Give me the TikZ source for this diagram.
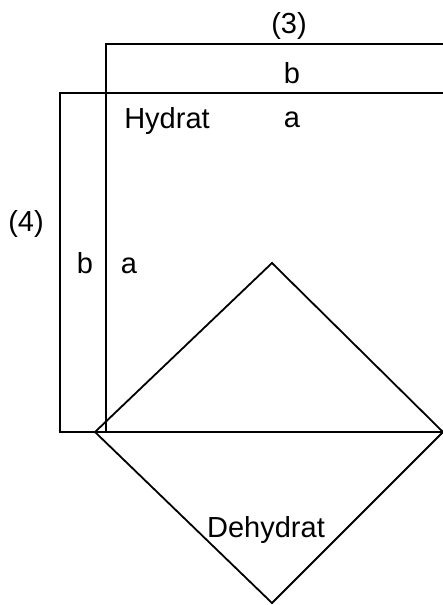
\documentclass[tikz,border=0pt]{standalone}
\usepackage{fontspec}
\setmainfont{Liberation Sans}
\usetikzlibrary{positioning}

\begin{document}
\begin{tikzpicture}[
  x=1pt, y=-1pt,
  edge/.style={line width=1.8pt, line join=miter},
  lbl/.style={inner sep=0pt, font=\fontsize{29}{32}\selectfont}
]
  \useasboundingbox (0,0) rectangle (443,605);

  \coordinate (inner-top) at (106,44);
  \coordinate (inner-right) at (443,44);
  \coordinate (outer-top) at (60,93);
  \coordinate (outer-right) at (443,93);
  \coordinate (inner-foot) at (106,432);
  \coordinate (outer-foot) at (60,432);
  \coordinate (base-right) at (443,432);
  \coordinate (dia-left) at (95,432);
  \coordinate (dia-top) at (272,263);
  \coordinate (dia-right) at (443,432);
  \coordinate (dia-bottom) at (272,603);

  \node[lbl] (num3) at (289,26) {(3)};
  \node[lbl] (b3) at (292,73) {b};
  \node[lbl] (a3) at (292,120) {a};
  \node[lbl, anchor=base] (hydrat) at (167,128) {Hydrat};
  \node[lbl] (num4) at (26,224) {(4)};
  \node[lbl] (b4) at (85,263) {b};
  \node[lbl] (a4) at (129,266) {a};
  \node[lbl, anchor=base] (dehydrat) at (266,537) {Dehydrat};

  \draw[edge] (inner-right) -- (inner-top) -- (inner-foot);
  \draw[edge] (outer-right) -- (outer-top) -- (outer-foot) -- (base-right);
  \draw[edge] (dia-left) -- (dia-top) -- (dia-right) -- (dia-bottom) -- cycle;
\end{tikzpicture}
\end{document}
